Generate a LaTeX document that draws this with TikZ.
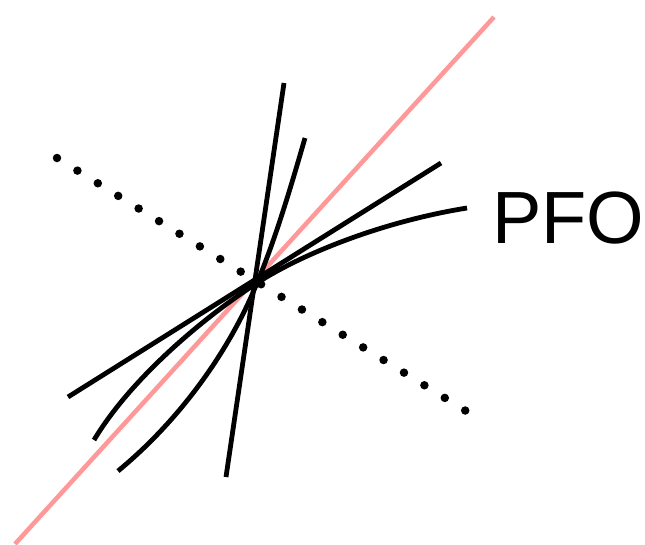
\documentclass[tikz,border=0pt]{standalone}
\usepackage{fontspec}
\setmainfont{Liberation Sans}
\usepackage{xcolor}
\usetikzlibrary{positioning}
\definecolor{axiscol}{RGB}{255,153,153}

\begin{document}
\begin{tikzpicture}[x=1pt,y=-1pt,
   track/.style={draw=black,line width=4.8pt},
   pfoaxis/.style={draw=axiscol,line width=4.5pt},
   dotline/.style={draw=black,line width=8.5pt,line cap=round,dash pattern=on 0pt off 24pt},
   lbl/.style={inner sep=0pt,anchor=base west,font=\fontsize{74}{78}\selectfont},
]
\useasboundingbox (0,0) rectangle (645,544);

% vertex and end points
\coordinate (vtx)  at (257,283);
\coordinate (axA)  at (15,544);
\coordinate (axB)  at (494,17);
\coordinate (dtA)  at (57,158);
\coordinate (dtB)  at (466,411);

% perpendicular plane
\draw[dotline] (dtA) -- (dtB);

% pfo direction
\draw[pfoaxis] (axA) -- (axB);

% straight tracks
\draw[track] (284,83) -- (226,477);
\draw[track] (441,163) -- (68,397);

% curved tracks
\draw[track] (305,138) .. controls (290,190) and (275,240) .. (vtx)
             .. controls (230,350) and (180,420) .. (118,471);
\draw[track] (467,208) .. controls (380,222) and (300,255) .. (vtx)
             .. controls (200,320) and (130,380) .. (94,440);

% label
\node[lbl] (pfo) at (492,243) {PFO};
\end{tikzpicture}
\end{document}
